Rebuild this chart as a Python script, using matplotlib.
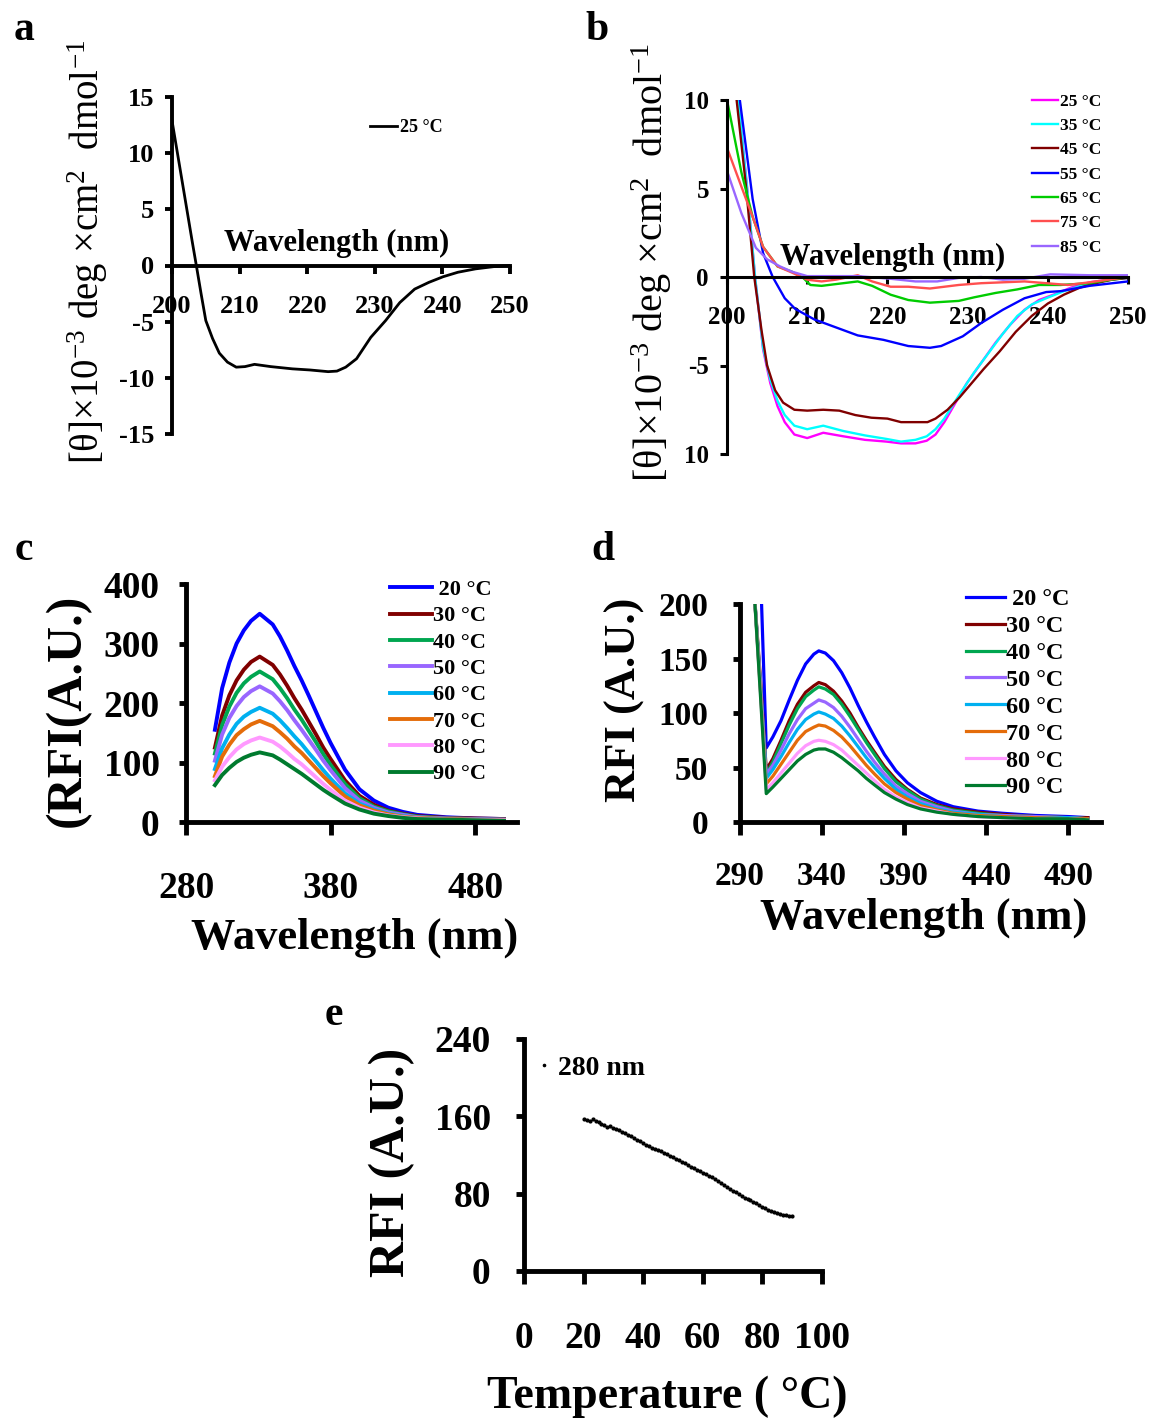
import matplotlib
matplotlib.use('Agg')
import matplotlib.pyplot as plt

plt.rcParams['font.family'] = ['Liberation Serif', 'DejaVu Serif']
plt.rcParams['mathtext.fontset'] = 'custom'
plt.rcParams['mathtext.rm'] = 'Liberation Serif'
plt.rcParams['mathtext.it'] = 'Liberation Serif:italic'
plt.rcParams['mathtext.bf'] = 'Liberation Serif:bold'
plt.rcParams['axes.unicode_minus'] = False

# ---------------- data ----------------
# a : CD spectrum at 25 C
a_wl = [200, 201, 202, 203, 203.6, 204.3, 205, 206, 207, 208.2, 209.5, 210.8, 212.2, 214.6,
        217.8, 220.4, 223.1, 224.4, 225.7, 227.3, 229.4, 231.6, 233.7, 235.9, 238, 240.1,
        242.3, 244.9, 247.6, 250]
a_val = [12.9, 9.3, 5.7, 2.1, 0, -2.5, -4.9, -6.5, -7.8, -8.6, -9.05, -9.0, -8.8, -9.0,
         -9.2, -9.3, -9.45, -9.4, -9.05, -8.3, -6.4, -4.9, -3.3, -2.1, -1.5, -1.0,
         -0.6, -0.3, -0.1, 0]

# b : CD spectra at several temperatures
b_labels = ['25 °C', '35 °C', '45 °C', '55 °C', '65 °C', '75 °C', '85 °C']
b_colors = ['#FF00FF', '#00FFFF', '#800000', '#0000FF', '#00CC00', '#FF4F4F', '#9966FF']
b25_wl = [200, 201.4, 202.5, 203.5, 204.5, 205.4, 206.3, 207.2, 208.4, 210, 212, 214.5, 217.2,
          219.9, 221.7, 223.5, 224.9, 226, 227.1, 228.5, 229.9, 231.7, 233.5, 235.3, 237.1,
          238.9, 240.7, 242.9, 245.2, 247.5, 250]
b25_val = [16, 10, 5.1, 0, -4.1, -6.0, -7.3, -8.2, -8.9, -9.1, -8.8, -9.0, -9.2, -9.3, -9.4,
           -9.4, -9.25, -8.9, -8.2, -7.1, -6.0, -4.85, -3.7, -2.7, -1.85, -1.3, -1.0, -0.6,
           -0.3, -0.15, -0.05]
b35_wl = [200, 201.4, 202.5, 203.5, 204.5, 205.4, 206.3, 207.2, 208.4, 210, 212, 214.5, 217.2,
          219.9, 221.7, 223.5, 224.9, 226, 227.1, 228.9, 230.8, 232.6, 234.4, 236.2, 238,
          239.8, 242, 244.5, 247, 250]
b35_val = [16, 10, 5, 0, -4.0, -5.8, -7.0, -7.8, -8.4, -8.6, -8.4, -8.7, -8.95, -9.15, -9.3,
           -9.2, -9.0, -8.6, -8.0, -6.7, -5.4, -4.3, -3.2, -2.2, -1.55, -1.2, -0.8, -0.45,
           -0.2, -0.05]
b45_wl = [200, 201.2, 202.4, 203.4, 204.3, 205, 206, 207, 208.4, 210, 212, 214, 216, 218, 220,
          221.7, 223.5, 225, 226, 227.5, 229, 230.5, 232, 234, 236, 238, 240, 242, 244, 246,
          248, 250]
b45_val = [16, 10, 5, 0, -3, -5, -6.4, -7.1, -7.5, -7.55, -7.5, -7.55, -7.8, -7.95, -8.0,
           -8.2, -8.2, -8.2, -8.0, -7.5, -6.8, -6.0, -5.2, -4.2, -3.1, -2.2, -1.5, -1.0,
           -0.6, -0.35, -0.15, -0.05]
b55_wl = [200, 201.6, 203.2, 204.5, 205.7, 207.2, 208.5, 210.9, 212.7, 216.3, 219.5, 222.6,
          225.3, 226.7, 229.4, 231.7, 234.4, 237.1, 239.8, 241.6, 245.2, 250]
b55_val = [18, 10, 4.4, 1.35, 0, -1.2, -1.8, -2.4, -2.7, -3.3, -3.55, -3.9, -4.0, -3.9, -3.35,
           -2.6, -1.85, -1.2, -0.85, -0.8, -0.5, -0.25]
b65_wl = [200, 201.8, 203.2, 204.5, 206.3, 208.1, 209.5, 210.4, 211.8, 213.6, 216.3, 218.1,
          220.4, 222.6, 225.3, 227.1, 228.9, 230.8, 233.5, 236.2, 238.9, 241.6, 245.2, 250]
b65_val = [10, 5.9, 3.4, 1.7, 0.6, 0.3, -0.05, -0.45, -0.5, -0.4, -0.25, -0.5, -1.0, -1.3,
           -1.45, -1.4, -1.35, -1.15, -0.9, -0.7, -0.45, -0.45, -0.35, 0]
b75_wl = [200, 201.8, 203.2, 204.5, 206.3, 208.1, 210, 211.8, 213.6, 216.3, 218.1, 220.4,
          222.6, 225.3, 227.1, 228.9, 231.7, 234.4, 237.1, 239.8, 242.5, 245.2, 250]
b75_val = [7.3, 5.1, 3.4, 1.7, 0.6, 0.25, -0.15, -0.25, -0.15, 0.1, -0.25, -0.55, -0.55,
           -0.65, -0.55, -0.45, -0.35, -0.3, -0.25, -0.35, -0.45, -0.3, 0]
b85_wl = [200, 201.8, 203.6, 205, 206.6, 208.1, 210, 213.6, 216.3, 220.4, 223.5, 226.2, 228.9,
          231.7, 234.4, 237.1, 240.3, 245.2, 250]
b85_val = [6.0, 3.6, 1.65, 1.0, 0.6, 0.3, 0.05, 0.05, 0.05, -0.1, -0.25, -0.25, -0.05, 0,
           -0.15, -0.1, 0.15, 0.1, 0.1]

# c : fluorescence spectra (exc 280 nm)
cd_labels = [' 20 °C', '30 °C', '40 °C', '50 °C', '60 °C', '70 °C', '80 °C', '90 °C']
cd_colors = ['#0000FF', '#800000', '#00A650', '#9966FF', '#00B0F0', '#E46C0A', '#FF99FF', '#007A2E']
c_wl = [300, 305, 310, 315, 320, 325, 331, 340, 345, 350, 355, 360, 365, 370, 375, 380, 390,
        400, 410, 420, 430, 440, 460, 480, 500]
c_20 = [155, 225, 268, 300, 322, 338, 350, 332, 312, 288, 262, 238, 212, 185, 158, 133, 88,
        55, 36, 24, 17, 12, 8, 6, 5]
c_30 = [125, 179, 213, 238, 256, 269, 278, 264, 248, 229, 208, 189, 168, 147, 125, 106, 70,
        44, 29, 19, 14, 10, 7, 6, 5]
c_40 = [115, 163, 194, 217, 233, 244, 253, 240, 225, 208, 189, 172, 153, 134, 114, 96, 64,
        40, 26, 18, 13, 9, 6, 5, 4]
c_50 = [103, 147, 175, 195, 210, 220, 228, 216, 203, 188, 171, 155, 138, 121, 103, 87, 57,
        36, 24, 16, 12, 8, 6, 5, 4]
c_60 = [89, 124, 147, 165, 177, 185, 192, 182, 171, 158, 144, 131, 116, 102, 87, 73, 48,
        31, 21, 14, 10, 7, 5, 4, 3]
c_70 = [77, 110, 130, 146, 156, 164, 170, 161, 151, 140, 127, 116, 103, 90, 77, 65, 43,
        28, 19, 13, 9, 7, 5, 4, 3]
c_80 = [70, 93, 109, 122, 131, 137, 142, 135, 127, 117, 106, 97, 86, 75, 64, 54, 36,
        24, 16, 11, 8, 6, 4, 3, 3]
c_90 = [62, 79, 91, 101, 108, 113, 117, 112, 105, 97, 89, 81, 72, 63, 54, 46, 31,
        21, 14, 10, 7, 5, 4, 3, 2]

# d : fluorescence spectra (exc 295 nm)
d_wl = [298.5, 302.5, 306, 310, 315, 320, 325, 330, 335, 338, 342, 347, 352, 357, 362, 367,
        372, 378, 385, 392, 400, 410, 420, 435, 450, 470, 490, 502]
d_20 = [700, 230, 68, 78, 93, 112, 130, 145, 154, 157, 155, 148, 137, 123, 107, 92, 78, 62,
        47, 36, 27, 19, 14, 10, 8, 6, 5, 4]
d_30 = [215, 130, 48, 58, 75, 93, 108, 119, 125, 128, 126, 120, 111, 100, 87, 75, 64, 51,
        39, 30, 22, 16, 12, 9, 7, 5, 4, 4]
d_40 = [215, 125, 44, 55, 72, 89, 104, 115, 121, 124, 122, 117, 108, 97, 85, 73, 62, 49,
        37, 29, 21, 15, 11, 8, 6, 5, 4, 3]
d_50 = [215, 125, 44, 52, 66, 81, 94, 104, 109, 112, 110, 105, 97, 87, 76, 65, 55, 44,
        33, 26, 19, 14, 10, 7, 6, 5, 4, 3]
d_60 = [215, 122, 40, 48, 60, 73, 85, 94, 99, 101, 99, 95, 88, 79, 69, 59, 50, 40,
        30, 23, 17, 12, 9, 7, 5, 4, 4, 3]
d_70 = [215, 120, 35, 42, 53, 64, 75, 83, 87, 89, 88, 84, 78, 70, 61, 52, 44, 35,
        27, 21, 15, 11, 8, 6, 5, 4, 3, 3]
d_80 = [215, 118, 30, 36, 45, 54, 63, 70, 74, 75, 74, 71, 66, 59, 52, 45, 38, 30,
        23, 18, 13, 10, 7, 5, 4, 3, 3, 2]
d_90 = [215, 115, 26, 32, 40, 48, 56, 62, 66, 67, 67, 64, 59, 53, 47, 40, 34, 27,
        21, 16, 12, 9, 7, 5, 4, 3, 3, 2]

# e : RFI at 280 nm vs temperature
e_temp = list(range(20, 91))
e_rfi = [157, 156, 155, 157, 155, 154, 152, 151, 149, 150, 148, 147, 146, 144, 143, 141,
         140, 138, 136, 134, 132, 130, 129, 127, 126, 125, 124, 122, 121, 119, 118, 116,
         115, 113, 112, 110, 108, 107, 105, 103, 101, 100, 98, 97, 95, 93, 91, 89, 87, 85,
         83, 82, 80, 78, 76, 74, 73, 71, 70, 68, 66, 65, 63, 62, 61, 60, 59, 58, 58, 57, 57]

# ---------------- figure ----------------
W, H = 1150, 1422
fig = plt.figure(figsize=(W / 100, H / 100), dpi=100)


def px_axes(l, t, r, b):
    return fig.add_axes([l / W, 1 - b / H, (r - l) / W, (b - t) / H])


def px_text(x, y, s, **kw):
    fig.text(x / W, 1 - y / H, s, ha='center', va='center', **kw)


def style(ax, lw):
    ax.spines['top'].set_visible(False)
    ax.spines['right'].set_visible(False)
    ax.spines['left'].set_linewidth(lw)
    ax.spines['bottom'].set_linewidth(lw)
    for lab in ax.get_xticklabels() + ax.get_yticklabels():
        lab.set_fontweight('bold')


theta_label = '[θ]×10$^{-3}$ deg ×cm$^{2}$  dmol$^{-1}$'

# ----- a -----
ax = px_axes(172, 97, 510, 434)
ax.plot(a_wl, a_val, color='k', lw=2, label='25 °C')
ax.set_xlim(200, 250)
ax.set_ylim(-15, 15)
ax.spines['bottom'].set_position(('data', 0))
ax.set_xticks([200, 210, 220, 230, 240, 250])
ax.set_yticks([15, 10, 5, 0, -5, -10, -15])
ax.tick_params(axis='x', length=6, width=2.8, pad=15, labelsize=19)
ax.tick_params(axis='y', length=5, width=2.8, pad=8, labelsize=19)
style(ax, 2.8)
ax.text(0.488, 0.564, 'Wavelength (nm)', transform=ax.transAxes, ha='center', va='center',
        fontsize=22, fontweight='bold')
ax.legend(loc='upper left', bbox_to_anchor=(0.585, 0.935), frameon=False, borderpad=0,
          borderaxespad=0, handlelength=1.5, handletextpad=0.15,
          prop={'size': 13, 'weight': 'bold'})
px_text(88, 252, theta_label, rotation=90, fontsize=28)
px_text(24, 30, 'a', fontsize=30, fontweight='bold')

# ----- b -----
ax = px_axes(727, 100, 1128, 454)
b_wls = [b25_wl, b35_wl, b45_wl, b55_wl, b65_wl, b75_wl, b85_wl]
b_vals = [b25_val, b35_val, b45_val, b55_val, b65_val, b75_val, b85_val]
for wl, val, col, lab in zip(b_wls, b_vals, b_colors, b_labels):
    ax.plot(wl, val, color=col, lw=1.7, label=lab)
ax.set_xlim(200, 250)
ax.set_ylim(-10, 10)
ax.spines['bottom'].set_position(('data', 0))
ax.set_xticks([200, 210, 220, 230, 240, 250])
ax.set_yticks([10, 5, 0, -5, -10])
ax.set_yticklabels(['10', '5', '0', '-5', '10'])
ax.tick_params(axis='x', length=5, width=2.2, pad=16, labelsize=18)
ax.tick_params(axis='y', length=5, width=2.2, pad=8, labelsize=18)
style(ax, 2.2)
ax.text(0.414, 0.556, 'Wavelength (nm)', transform=ax.transAxes, ha='center', va='center',
        fontsize=22, fontweight='bold')
ax.legend(loc='upper left', bbox_to_anchor=(0.76, 1.018), frameon=False, borderpad=0,
          borderaxespad=0, handlelength=1.5, handletextpad=0.1, labelspacing=0.47,
          prop={'size': 12.5, 'weight': 'bold'})
px_text(652, 262, theta_label, rotation=90, fontsize=29)
px_text(597, 30, 'b', fontsize=30, fontweight='bold')

# ----- c -----
ax = px_axes(186, 584, 517, 822)
for val, col, lab in zip([c_20, c_30, c_40, c_50, c_60, c_70, c_80, c_90], cd_colors, cd_labels):
    ax.plot(c_wl, val, color=col, lw=2.8, label=lab)
ax.set_xlim(280, 509)
ax.set_ylim(0, 400)
ax.set_xticks([280, 380, 480])
ax.set_yticks([0, 100, 200, 300, 400])
ax.tick_params(axis='x', length=9, width=3.5, pad=26, labelsize=27)
ax.tick_params(axis='y', length=5, width=3.5, pad=14, labelsize=27)
style(ax, 3.5)
ax.legend(loc='upper left', bbox_to_anchor=(0.615, 1.019), frameon=False, borderpad=0,
          borderaxespad=0, handlelength=1.9, handletextpad=0.05, labelspacing=0.26,
          prop={'size': 16, 'weight': 'bold'})
px_text(68, 710, '(RFI(A.U.)', rotation=90, fontsize=36, fontweight='bold')
px_text(355, 938, 'Wavelength (nm)', fontsize=32, fontweight='bold')
px_text(24, 550, 'c', fontsize=30, fontweight='bold')

# ----- d -----
ax = px_axes(740, 604, 1101, 822)
for val, col, lab in zip([d_20, d_30, d_40, d_50, d_60, d_70, d_80, d_90], cd_colors, cd_labels):
    ax.plot(d_wl, val, color=col, lw=2.3, label=lab)
ax.set_xlim(290, 510)
ax.set_ylim(0, 200)
ax.set_xticks([290, 340, 390, 440, 490])
ax.set_yticks([0, 50, 100, 150, 200])
ax.tick_params(axis='x', length=9, width=3.5, pad=19, labelsize=24)
ax.tick_params(axis='y', length=5, width=3.5, pad=18, labelsize=24)
style(ax, 3.5)
ax.legend(loc='upper left', bbox_to_anchor=(0.626, 1.072), frameon=False, borderpad=0,
          borderaxespad=0, handlelength=1.6, handletextpad=0.05, labelspacing=0.2,
          prop={'size': 17.5, 'weight': 'bold'})
px_text(625, 700, 'RFI (A.U.)', rotation=90, fontsize=32, fontweight='bold')
px_text(924, 918, 'Wavelength (nm)', fontsize=32, fontweight='bold')
px_text(603, 550, 'd', fontsize=30, fontweight='bold')

# ----- e -----
ax = px_axes(524, 1039, 822, 1271)
ax.plot(e_temp, e_rfi, '.', color='k', ms=4, label='280 nm')
ax.set_xlim(0, 100)
ax.set_ylim(0, 240)
ax.set_xticks([0, 20, 40, 60, 80, 100])
ax.set_yticks([0, 80, 160, 240])
ax.tick_params(axis='x', length=9, width=3.5, pad=27, labelsize=27)
ax.tick_params(axis='y', length=6, width=3.5, pad=18, labelsize=27)
style(ax, 3.5)
ax.legend(loc='upper left', bbox_to_anchor=(0.05, 0.93), frameon=False, borderpad=0,
          borderaxespad=0, handlelength=0.4, handletextpad=0.3, markerscale=0.8,
          prop={'size': 20, 'weight': 'bold'})
px_text(392, 1162, 'RFI (A.U.)', rotation=90, fontsize=36, fontweight='bold')
px_text(667, 1397, 'Temperature ( °C)', fontsize=33, fontweight='bold')
px_text(334, 1015, 'e', fontsize=30, fontweight='bold')

fig.savefig('out.png', dpi=100)
